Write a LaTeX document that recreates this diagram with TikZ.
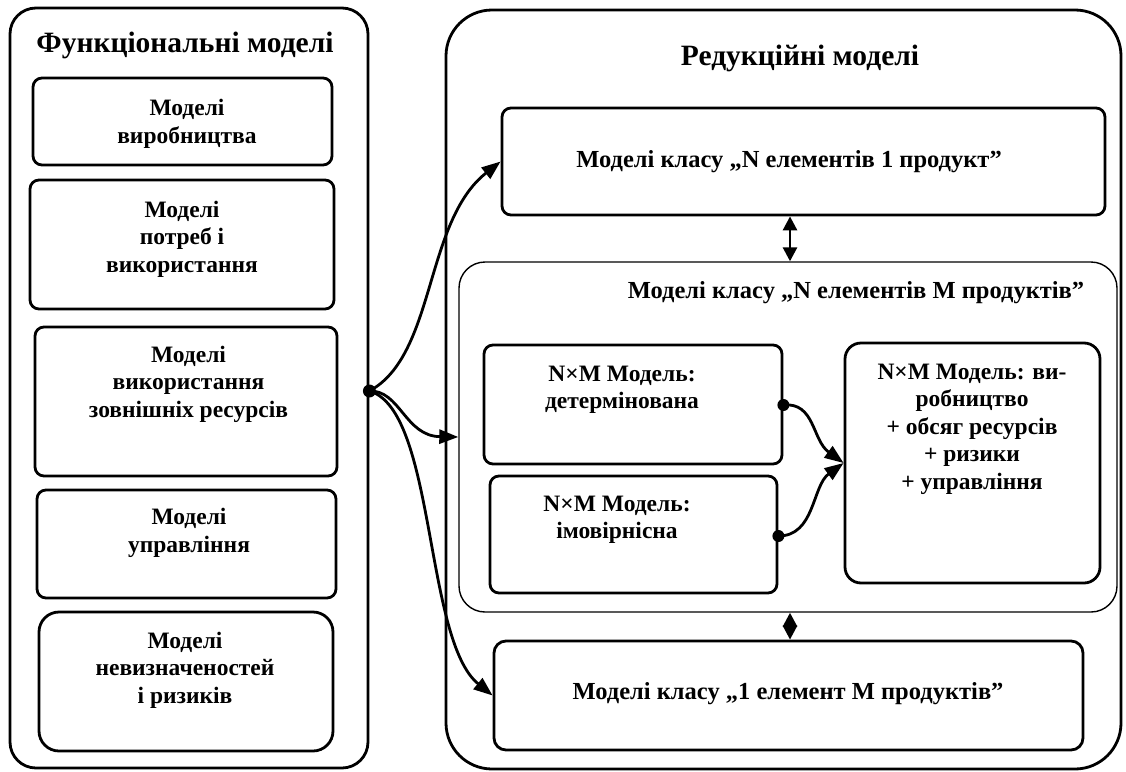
\documentclass[tikz,border=0pt]{standalone}
\usepackage{fontspec}
\setmainfont{Liberation Serif}
\usetikzlibrary{arrows.meta}
\begin{document}
\begin{tikzpicture}[x=1pt,y=-1pt,
  box/.style={draw, line width=2.8pt, rounded corners=9pt, inner sep=0pt},
  outer/.style={draw, line width=2.8pt, inner sep=0pt},
  txt/.style={font=\bfseries\fontsize{23.5}{27.5}\selectfont, align=center, inner sep=0pt},
  wtxt/.style={font=\bfseries\fontsize{24.5}{28}\selectfont, align=center, inner sep=0pt},
  ttl/.style={font=\bfseries\fontsize{29.5}{34}\selectfont, inner sep=0pt},
  conn/.style={line width=2.8pt, -{Triangle[length=19pt,width=14pt]}},
  dblconn/.style={line width=2.8pt, {Triangle[length=14pt,width=14pt]}-{Triangle[length=14pt,width=14pt]}},
  jdot/.style={circle, fill, inner sep=0pt, minimum size=13pt}]
\useasboundingbox (0,0) rectangle (1126,771);

% functional models
\node[outer, rounded corners=26pt, minimum width=358pt, minimum height=760pt] (func) at (189,388) {};
\node[ttl] (functitle) at (185,45) {Функціональні моделі};
\node[box, minimum width=299pt, minimum height=87pt] (f1) at (182.5,121.5) {};
\node[box, minimum width=304pt, minimum height=129pt] (f2) at (182,244.5) {};
\node[box, minimum width=302pt, minimum height=149pt] (f3) at (186,401.5) {};
\node[box, minimum width=299pt, minimum height=108pt] (f4) at (186.5,544) {};
\node[box, rounded corners=20pt, minimum width=294pt, minimum height=139pt] (f5) at (186,681.5) {};
\node[txt] (f1t) at (187,124) {Моделі\\виробництва};
\node[txt] (f2t) at (182,239) {Моделі\\потреб і\\використання};
\node[txt] (f3t) at (188.5,384) {Моделі\\використання\\зовнішніх ресурсів};
\node[txt] (f4t) at (189,533) {Моделі\\управління};
\node[txt] (f5t) at (185,670) {Моделі\\невизначеностей\\і ризиків};

% reduction models
\node[outer, rounded corners=46pt, minimum width=675pt, minimum height=759pt] (red) at (783.5,389.5) {};
\node[ttl] (redtitle) at (800,58) {Редукційні моделі};
\node[box, minimum width=603pt, minimum height=107pt] (A) at (803.5,161.5) {};
\node[wtxt] (At) at (789,162) {Моделі класу „N елементів 1 продукт”};
\node[draw, line width=1.4pt, rounded corners=26pt, inner sep=0pt, minimum width=658pt, minimum height=350pt] (mid) at (788,437) {};
\node[wtxt] (midt) at (856,293) {Моделі класу „N елементів M продуктів”};
\node[box, minimum width=298pt, minimum height=119pt] (D) at (633,404.5) {};
\node[txt] (Dt) at (622,390) {N×M Модель:\\детермінована};
\node[box, minimum width=287pt, minimum height=117pt] (P) at (633.5,534.5) {};
\node[txt] (Pt) at (617,520) {N×M Модель:\\імовірнісна};
\node[box, rounded corners=16pt, minimum width=255pt, minimum height=240pt] (R) at (972.5,463) {};
\node[txt] (Rt) at (972,429) {N×M Модель: ви-\\робництво\\+ обсяг ресурсів\\+ ризики\\+ управління};
\node[box, rounded corners=12pt, minimum width=589pt, minimum height=109pt] (B) at (788.5,695.5) {};
\node[wtxt] (Bt) at (788,694) {Моделі класу „1 елемент M продуктів”};

% junction dots
\node[jdot] (fd) at (func.east |- 0,391) {};
\node[jdot, minimum size=12pt] (dd) at (D.east |- 0,405) {};
\node[jdot, minimum size=12pt] (pd) at (P.east |- 0,536) {};

% connectors
\draw[conn] (fd.center) .. controls (436,355) and (424,222) .. (A.west);
\draw[conn] (fd.center) .. controls (400,390) and (405,436) .. (mid.west);
\draw[conn] (fd.center) .. controls (436,410) and (424,640) .. (B.west);
\draw[conn] (dd.center) .. controls (815,402) and (812,440) .. (R.west);
\draw[conn] (pd.center) .. controls (815,536) and (812,486) .. (R.west);
\draw[dblconn] (A.south -| 790,0) -- (mid.north -| 790,0);
\draw[dblconn] (mid.south -| 790,0) -- (B.north -| 790,0);
\end{tikzpicture}
\end{document}
